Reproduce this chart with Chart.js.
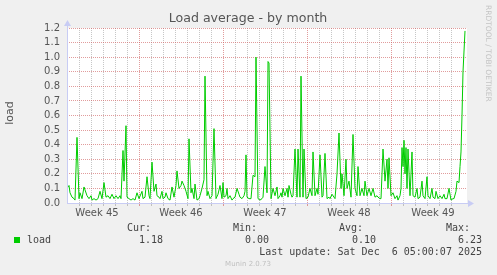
<!DOCTYPE html>
<html>
<head>
<meta charset="utf-8">
<script src="https://cdn.jsdelivr.net/npm/chart.js@4/dist/chart.umd.min.js"></script>
<style>
    html, body { margin: 0; padding: 0; background: #f0f0f0; }
    #wrap { width: 497px; height: 275px; }
</style>
</head>
<body>
<div id="wrap"><canvas id="loadChart" width="497" height="275"></canvas></div>
<script>
// hours since Monday Nov 3 00:00, and the load read at that time
const hours = [
    24, 28, 30, 34, 38, 40, 44, 48, 50, 54, 58, 60, 64, 68, 72, 74, 78, 82, 86, 90,
    94, 98, 102, 106, 110, 114, 118, 122, 126, 130, 132, 136, 138, 142, 144, 148, 152, 156, 160, 164,
    168, 174, 176, 180, 184, 188, 190, 194, 198, 202, 204, 208, 210, 214, 216, 220, 222, 226, 230, 234,
    238, 242, 244, 248, 252, 254, 258, 262, 266, 268, 272, 274, 278, 280, 284, 288, 290, 294, 298, 300,
    304, 306, 310, 314, 318, 322, 326, 330, 334, 336, 338, 342, 344, 346, 350, 354, 356, 360, 364, 368,
    370, 374, 378, 380, 382, 384, 388, 392, 396, 400, 402, 406, 410, 414, 416, 420, 424, 426, 428, 432,
    436, 440, 444, 446, 450, 452, 454, 456, 460, 464, 466, 468, 472, 474, 476, 480, 484, 486, 490, 492,
    496, 498, 502, 506, 510, 514, 516, 520, 524, 526, 530, 534, 536, 540, 544, 548, 550, 554, 558, 560,
    564, 568, 572, 574, 578, 582, 584, 588, 592, 596, 600, 604, 606, 610, 614, 618, 620, 624, 628, 632,
    636, 640, 644, 646, 650, 652, 656, 660, 664, 666, 668, 672, 676, 680, 684, 686, 690, 692, 694, 696,
    698, 700, 702, 704, 706, 710, 714, 716, 720, 724, 726, 730, 734, 736, 740, 744, 746, 750, 754, 756,
    760, 762, 766, 770, 774, 778, 780, 784, 788, 792, 796, 798, 802, 804, 808, 810, 812, 814, 816, 820
];
const load = [
    0.10, 0.12, 0.07, 0.04, 0.03, 0.02, 0.45, 0.03, 0.07, 0.03, 0.11, 0.09, 0.05, 0.03, 0.05, 0.02, 0.03, 0.02, 0.03, 0.08,
    0.03, 0.14, 0.04, 0.05, 0.03, 0.06, 0.03, 0.05, 0.03, 0.05, 0.03, 0.36, 0.15, 0.53, 0.04, 0.03, 0.02, 0.03, 0.02, 0.07,
    0.03, 0.08, 0.03, 0.04, 0.18, 0.05, 0.03, 0.28, 0.08, 0.13, 0.05, 0.04, 0.03, 0.08, 0.03, 0.04, 0.07, 0.03, 0.02, 0.11,
    0.04, 0.12, 0.22, 0.10, 0.12, 0.15, 0.12, 0.08, 0.03, 0.44, 0.07, 0.10, 0.03, 0.13, 0.02, 0.03, 0.05, 0.10, 0.16, 0.87,
    0.05, 0.08, 0.03, 0.05, 0.51, 0.03, 0.06, 0.12, 0.03, 0.14, 0.04, 0.05, 0.10, 0.03, 0.05, 0.02, 0.03, 0.04, 0.10, 0.06,
    0.04, 0.03, 0.05, 0.08, 0.33, 0.04, 0.03, 0.03, 0.19, 0.18, 1.00, 0.03, 0.02, 0.03, 0.04, 0.25, 0.07, 0.97, 0.96, 0.03,
    0.10, 0.05, 0.11, 0.03, 0.05, 0.07, 0.04, 0.10, 0.05, 0.10, 0.04, 0.12, 0.06, 0.04, 0.05, 0.37, 0.04, 0.37, 0.04, 0.87,
    0.04, 0.37, 0.03, 0.04, 0.10, 0.05, 0.35, 0.05, 0.10, 0.06, 0.33, 0.04, 0.05, 0.34, 0.03, 0.04, 0.03, 0.06, 0.04, 0.03,
    0.20, 0.48, 0.10, 0.20, 0.05, 0.30, 0.10, 0.15, 0.04, 0.47, 0.10, 0.05, 0.25, 0.05, 0.10, 0.05, 0.15, 0.05, 0.10, 0.05,
    0.10, 0.04, 0.05, 0.04, 0.03, 0.03, 0.37, 0.15, 0.30, 0.10, 0.31, 0.05, 0.07, 0.03, 0.05, 0.02, 0.05, 0.10, 0.38, 0.25,
    0.43, 0.20, 0.38, 0.10, 0.37, 0.05, 0.35, 0.05, 0.04, 0.10, 0.03, 0.04, 0.15, 0.05, 0.03, 0.18, 0.05, 0.03, 0.10, 0.04,
    0.03, 0.08, 0.03, 0.05, 0.03, 0.06, 0.03, 0.03, 0.10, 0.02, 0.03, 0.03, 0.08, 0.15, 0.14, 0.25, 0.35, 0.60, 0.90, 1.18
];

const weekTicks = [84, 252, 420, 588, 756];
const weekLabels = ['Week 45', 'Week 46', 'Week 47', 'Week 48', 'Week 49'];

const legendHeads = ['Cur:', 'Min:', 'Avg:', 'Max:'];
const legendValues = ['1.18', '0.00', '0.10', '6.23'];
const seriesName = 'load';
const lastUpdate = 'Last update: Sat Dec  6 05:00:07 2025';

const TEXT = '#555555';
const GREEN = '#00cc00';
const AXIS = '#c8ccf4';

// frame, background and all the munin text around the plot
const muninDecor = {
    id: 'muninDecor',
    beforeDraw(chart) {
        const { ctx, chartArea: a } = chart;
        ctx.save();
        ctx.fillStyle = '#f0f0f0';
        ctx.fillRect(0, 0, chart.width, chart.height);
        ctx.fillStyle = '#ffffff';
        ctx.fillRect(a.left, a.top, a.right - a.left, a.bottom - a.top);
        ctx.restore();
    },
    afterDatasetsDraw(chart) {
        const { ctx, chartArea: a } = chart;
        ctx.save();

        // axes with arrow heads
        ctx.strokeStyle = AXIS;
        ctx.fillStyle = AXIS;
        ctx.lineWidth = 1;
        ctx.beginPath();
        ctx.moveTo(a.left + 0.5, a.bottom);
        ctx.lineTo(a.left + 0.5, a.top - 4);
        ctx.moveTo(a.left, a.bottom + 0.5);
        ctx.lineTo(a.right + 3, a.bottom + 0.5);
        ctx.stroke();
        ctx.beginPath();
        ctx.moveTo(a.left + 0.5, a.top - 8);
        ctx.lineTo(a.left - 3, a.top - 2);
        ctx.lineTo(a.left + 4, a.top - 2);
        ctx.fill();
        ctx.beginPath();
        ctx.moveTo(a.right + 7, a.bottom + 0.5);
        ctx.lineTo(a.right + 1, a.bottom - 3);
        ctx.lineTo(a.right + 1, a.bottom + 4);
        ctx.fill();

        // title
        ctx.fillStyle = TEXT;
        ctx.font = '12.6px "DejaVu Sans"';
        ctx.textAlign = 'center';
        ctx.textBaseline = 'middle';
        ctx.fillText('Load average - by month', 248, 19);

        // vertical axis title
        ctx.save();
        ctx.translate(10, 113);
        ctx.rotate(-Math.PI / 2);
        ctx.font = '11px "DejaVu Sans"';
        ctx.fillText('load', 0, 0);
        ctx.restore();

        // rrdtool credit
        ctx.save();
        ctx.translate(487.5, 5);
        ctx.rotate(Math.PI / 2);
        ctx.font = '7.5px "DejaVu Sans"';
        ctx.fillStyle = '#c4c4c4';
        ctx.textAlign = 'left';
        ctx.fillText('RRDTOOL / TOBI OETIKER', 0, 0);
        ctx.restore();

        // legend table
        const cols = [151, 257, 363, 470];
        const valCols = [163, 269, 376, 482];
        ctx.font = '10px "DejaVu Sans Mono"';
        ctx.fillStyle = '#444444';
        ctx.textAlign = 'right';
        legendHeads.forEach((h, i) => ctx.fillText(h, cols[i], 228));
        legendValues.forEach((v, i) => ctx.fillText(v, valCols[i], 240));
        ctx.fillText(lastUpdate, 482, 252);
        ctx.textAlign = 'left';
        ctx.fillText(seriesName, 27, 240);
        ctx.fillStyle = GREEN;
        ctx.fillRect(14, 237, 6, 6);

        // footer
        ctx.font = '7px "DejaVu Sans"';
        ctx.fillStyle = '#c0c0c0';
        ctx.textAlign = 'center';
        ctx.fillText('Munin 2.0.73', 248, 264);

        ctx.restore();
    }
};

new Chart(document.getElementById('loadChart'), {
    type: 'line',
    data: {
        datasets: [{
            label: seriesName,
            data: hours.map((h, i) => ({ x: h, y: load[i] })),
            borderColor: GREEN,
            borderWidth: 1,
            pointRadius: 0,
            tension: 0,
            fill: false
        }]
    },
    options: {
        responsive: false,
        animation: false,
        events: [],
        layout: { padding: { left: 0, top: 28, right: 30, bottom: 52 } },
        plugins: { legend: { display: false }, tooltip: { enabled: false } },
        scales: {
            x: {
                type: 'linear',
                min: 24,
                max: 824,
                afterFit: s => { s.height = 20; },
                border: { display: false, dash: [1, 1] },
                grid: {
                    drawTicks: true,
                    tickLength: 3,
                    color: c => {
                        const v = Math.round(c.tick.value);
                        if (v % 168 === 0) return 'rgba(205, 90, 90, 0.6)';
                        if (v % 24 === 0 && v !== 24) return 'rgba(130, 130, 130, 0.45)';
                        return 'rgba(0, 0, 0, 0)';
                    }
                },
                ticks: {
                    stepSize: 12,
                    autoSkip: false,
                    maxTicksLimit: 100,
                    maxRotation: 0,
                    minRotation: 0,
                    padding: 1,
                    color: TEXT,
                    font: { family: 'DejaVu Sans', size: 10 },
                    callback: v => {
                        const i = weekTicks.indexOf(Math.round(v));
                        return i >= 0 ? weekLabels[i] : '';
                    }
                }
            },
            y: {
                min: 0,
                max: 1.2,
                afterFit: s => { s.width = 67; },
                border: { display: false, dash: [1, 1] },
                grid: {
                    drawTicks: false,
                    color: 'rgba(205, 90, 90, 0.6)'
                },
                ticks: {
                    stepSize: 0.1,
                    autoSkip: false,
                    maxTicksLimit: 20,
                    padding: 7,
                    color: TEXT,
                    font: { family: 'DejaVu Sans', size: 10 },
                    callback: v => v.toFixed(1)
                }
            }
        }
    },
    plugins: [muninDecor]
});
</script>
</body>
</html>
